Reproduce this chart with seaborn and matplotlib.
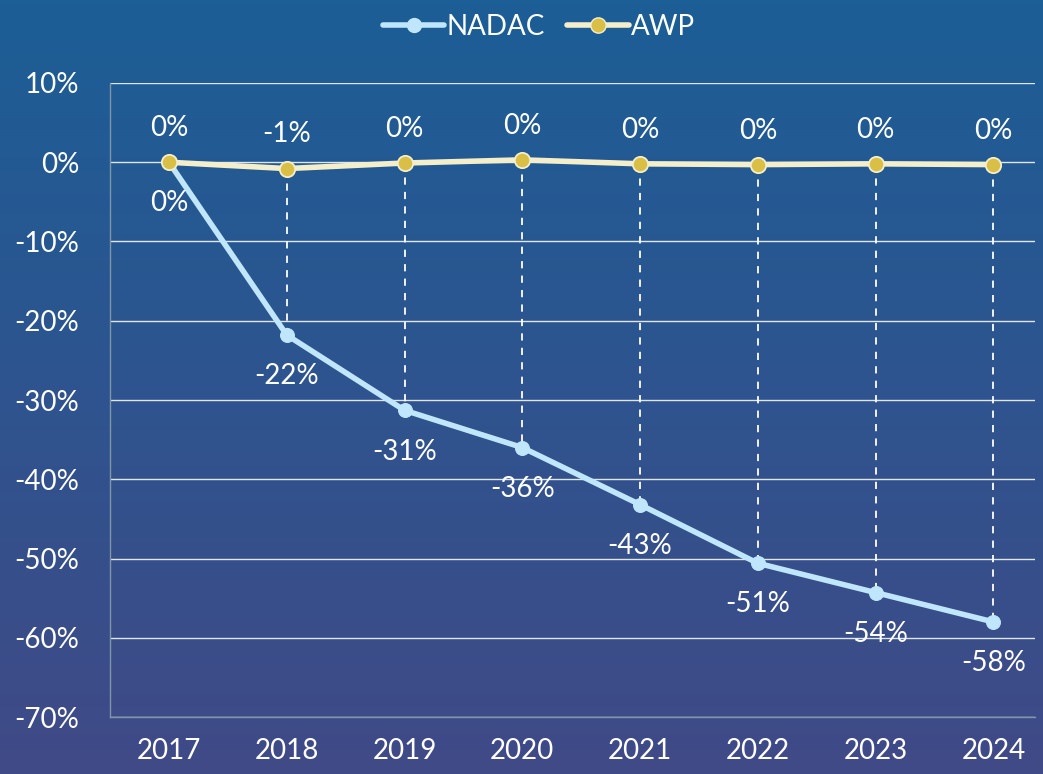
import numpy as np
import pandas as pd
import matplotlib.pyplot as plt
import seaborn as sns
from matplotlib.lines import Line2D

years = ["2017", "2018", "2019", "2020", "2021", "2022", "2023", "2024"]
nadac = [0.0, -21.8, -31.3, -36.0, -43.2, -50.6, -54.3, -58.0]
awp = [0.0, -0.8, -0.1, 0.3, -0.2, -0.3, -0.2, -0.3]
nadac_labels = ["0%", "-22%", "-31%", "-36%", "-43%", "-51%", "-54%", "-58%"]
awp_labels = ["0%", "-1%", "0%", "0%", "0%", "0%", "0%", "0%"]

df = pd.DataFrame({"pos": range(len(years)), "NADAC": nadac, "AWP": awp})

sns.set_style("white")
plt.rcParams["font.family"] = ["Lato", "DejaVu Sans"]

nadac_col = "#bfe6fb"
awp_line = "#f5eecb"
awp_dot = "#d9bf45"
fs = 20

fig = plt.figure(figsize=(10.43, 7.74), dpi=100)

# gradient background
bg = fig.add_axes([0, 0, 1, 1], zorder=-1)
top = np.array([28, 94, 150]) / 255
bot = np.array([64, 74, 135]) / 255
t = np.linspace(0, 1, 256)[:, None]
grad = (top * (1 - t) + bot * t)[:, None, :]
bg.imshow(grad, aspect="auto", extent=[0, 1, 0, 1])
bg.axis("off")

ax = fig.add_axes([0.1055, 0.0736, 0.8865, 0.8192])
ax.set_facecolor("none")

# drop lines
for i in range(1, len(years)):
    ax.plot([i, i], [awp[i], nadac[i]], color="white", lw=1.3,
            ls=(0, (4, 4)), zorder=1)

sns.lineplot(data=df, x="pos", y="NADAC", ax=ax, color=nadac_col, lw=4,
             marker="o", markersize=10, markerfacecolor=nadac_col,
             markeredgecolor=nadac_col, zorder=3)
sns.lineplot(data=df, x="pos", y="AWP", ax=ax, color=awp_line, lw=4,
             marker="o", markersize=11, markerfacecolor=awp_dot,
             markeredgecolor=awp_line, markeredgewidth=1.3, zorder=4)

for i in range(len(years)):
    ax.text(i, awp[i] + 4.3, awp_labels[i], color="white", fontsize=fs,
            ha="center", va="center")
    ax.text(i, nadac[i] - 5.2, nadac_labels[i], color="white",
            fontsize=fs, ha="center", va="center", zorder=5)

ax.set_xlim(-0.5, 7.35)
ax.set_ylim(-70, 10)
ax.set_yticks(range(-70, 11, 10))
ax.set_yticklabels([f"{v}%" for v in range(-70, 11, 10)])
ax.set_xticks(range(len(years)))
ax.set_xticklabels(years)
ax.tick_params(axis="y", colors="white", labelsize=fs, length=0, pad=22)
ax.tick_params(axis="x", colors="white", labelsize=fs, length=0, pad=15)
ax.set_xlabel("")
ax.set_ylabel("")
ax.grid(axis="y", color="#dfe6ee", lw=1)
ax.set_axisbelow(True)
for s in ["top", "right"]:
    ax.spines[s].set_visible(False)
for s in ["left", "bottom"]:
    ax.spines[s].set_color("#7f95a8")
    ax.spines[s].set_linewidth(1)

handles = [
    Line2D([], [], color=nadac_col, lw=4, marker="o", markersize=10,
           markerfacecolor=nadac_col, markeredgecolor=nadac_col),
    Line2D([], [], color=awp_line, lw=4, marker="o", markersize=11,
           markerfacecolor=awp_dot, markeredgecolor=awp_line),
]
leg = fig.legend(handles, ["NADAC", "AWP"], loc="upper center",
                 bbox_to_anchor=(0.517, 1.014), ncol=2, frameon=False,
                 fontsize=fs, handlelength=2.2, handletextpad=0.1,
                 columnspacing=0.8)
for txt in leg.get_texts():
    txt.set_color("white")

fig.savefig("out.png", dpi=100)
